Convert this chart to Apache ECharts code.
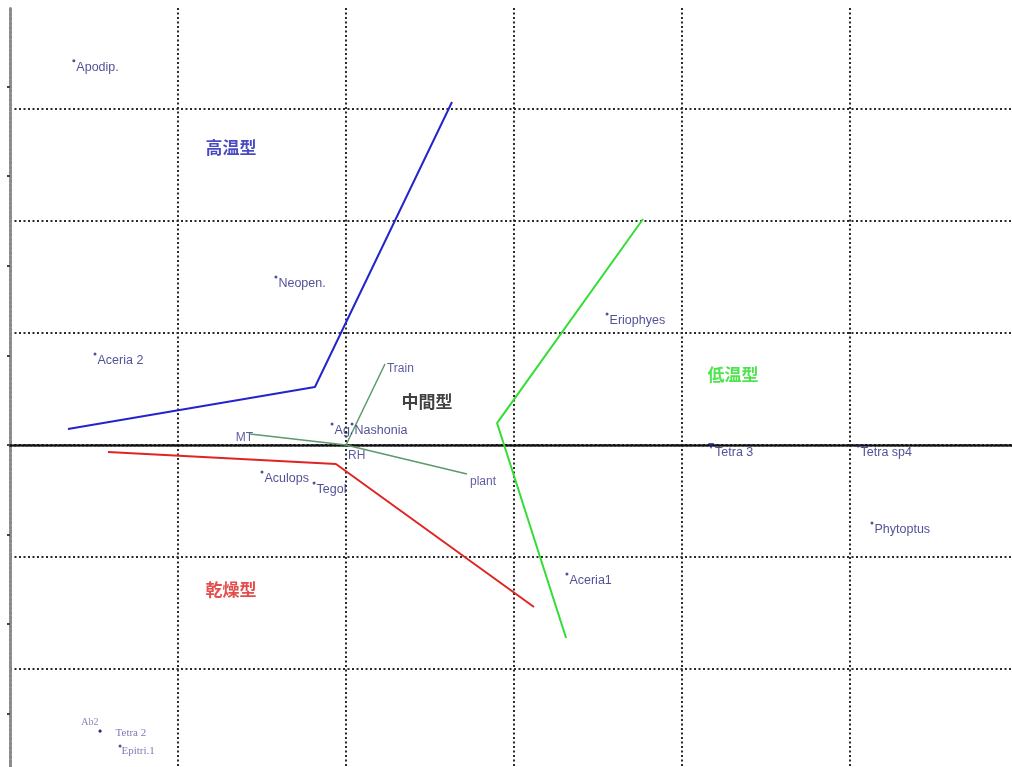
<!DOCTYPE html>
<html>
<head>
<meta charset="utf-8">
<title>CCA</title>
<script src="https://cdn.jsdelivr.net/npm/echarts@6.0.0/dist/echarts.min.js"></script>
<style>
    html, body { margin: 0; padding: 0; background: #fff; }
    #echart_main { width: 1012px; height: 767px; }
</style>
</head>
<body>
<div id="echart_main"></div>
<script>
// 种名与坐标（单位 = 一个网格）
var speciesNames = ['Apodip.', 'Neopen.', 'Aceria 2', 'Eriophyes', 'Tetra 3', 'Tetra sp4', 'Phytoptus',
    'Aceria1', 'Aculops', 'Tegol', 'Ag.', 'Nashonia', 'Ab2', 'Tetra 2', 'Epitri.1'];
var speciesX = [-1.62, -0.417, -1.494, 1.554, 2.173, 3.048, 3.131, 1.315, -0.5, -0.19, -0.083, 0.036, -1.464, -1.464, -1.345];
var speciesY = [3.43, 1.5, 0.813, 1.17, -0.009, -0.009, -0.696, -1.152, -0.241, -0.339, 0.188, 0.188, -2.554, -2.554, -2.688];

// 环境因子
var envNames = ['Train', 'MT', 'plant', 'RH'];
var envX = [0.232, -0.571, 0.72, 0.006];
var envY = [0.723, 0.098, -0.259, -0.009];

// 类型折线
var highTempX = [-1.655, -0.185, 0.631];
var highTempY = [0.143, 0.518, 3.063];
var dryX = [-1.417, -0.06, 1.119];
var dryY = [-0.0625, -0.17, -1.446];
var lowTempX = [1.768, 0.899, 1.31];
var lowTempY = [2.018, 0.196, -1.723];

var groupNames = ['高温型', '中間型', '低温型', '乾燥型'];
var groupX = [-0.685, 0.482, 2.304, -0.685];
var groupY = [2.652, 0.384, 0.625, -1.295];

function pairs(xs, ys) {
    var out = [];
    for (var i = 0; i < xs.length; i++) out.push([xs[i], ys[i]]);
    return out;
}

function draw() {
    var myChart = echarts.init(document.getElementById('echart_main'));
    var navy = '#25257e';
    var dotted = { color: '#2a2a2a', width: 2, type: [2, 2.5] };

    var speciesData = [];
    for (var i = 0; i < speciesNames.length; i++) {
        var item = { name: speciesNames[i], value: [speciesX[i], speciesY[i]] };
        var nm = speciesNames[i];
        if (nm == 'Ab2') {
            item.label = { position: 'left', offset: [1, -9], fontFamily: 'Liberation Serif', color: '#6a6aa8', fontSize: 10 };
        } else if (nm == 'Tetra 2') {
            item.label = { offset: [13, 2], fontFamily: 'Liberation Serif', color: '#5a5aa0', fontSize: 11 };
        } else if (nm == 'Epitri.1') {
            item.label = { offset: [-1, 5], fontFamily: 'Liberation Serif', color: '#5a5aa0', fontSize: 11 };
        } else if (nm == 'Tetra 3') {
            item.symbol = 'triangle';
            item.symbolRotate = 180;
            item.symbolSize = 6;
        }
        speciesData.push(item);
    }

    var envData = [];
    for (var j = 0; j < envNames.length; j++) {
        var e = { name: envNames[j], value: [envX[j], envY[j]] };
        if (envNames[j] == 'MT') e.label = { position: 'left', offset: [5, 4] };
        if (envNames[j] == 'plant') e.label = { offset: [1, 8] };
        if (envNames[j] == 'RH') e.label = { offset: [-1, 10] };
        envData.push(e);
    }

    var groupColors = ['#1c1cb4', '#111111', '#22dd22', '#dd2020'];
    var groupData = [];
    for (var k = 0; k < groupNames.length; k++) {
        groupData.push({
            name: groupNames[k],
            value: [groupX[k], groupY[k]],
            label: { color: groupColors[k] }
        });
    }

    var series = [];
    // 环境因子向量
    for (var m = 0; m < envNames.length; m++) {
        series.push({
            type: 'line',
            data: [[0, 0], [envX[m], envY[m]]],
            symbol: 'none',
            silent: true,
            lineStyle: { color: '#5b9a6b', width: 1.5 },
            z: 3
        });
    }
    series.push(
        {
            name: '高温型',
            type: 'line',
            data: pairs(highTempX, highTempY),
            symbol: 'none',
            lineStyle: { color: '#2424cc', width: 2 },
            z: 4
        },
        {
            name: '乾燥型',
            type: 'line',
            data: pairs(dryX, dryY),
            symbol: 'none',
            lineStyle: { color: '#e02424', width: 2 },
            z: 4
        },
        {
            name: '低温型',
            type: 'line',
            data: pairs(lowTempX, lowTempY),
            symbol: 'none',
            lineStyle: { color: '#33dd33', width: 2 },
            z: 4
        },
        {
            name: 'species',
            type: 'scatter',
            data: speciesData,
            symbolSize: 3,
            itemStyle: { color: navy },
            label: {
                show: true,
                position: 'right',
                distance: 1,
                offset: [0, 7],
                formatter: '{b}',
                color: navy,
                fontSize: 12.5,
                fontFamily: 'Liberation Sans'
            },
            z: 5
        },
        {
            name: 'envLabel',
            type: 'scatter',
            data: envData,
            symbolSize: 0,
            label: {
                show: true,
                position: 'right',
                distance: 2,
                offset: [0, 5],
                formatter: '{b}',
                color: '#33338a',
                fontSize: 12,
                fontFamily: 'Liberation Sans'
            },
            z: 5
        },
        {
            name: 'group',
            type: 'scatter',
            data: groupData,
            symbolSize: 0,
            label: {
                show: true,
                position: 'inside',
                formatter: '{b}',
                fontSize: 17,
                fontWeight: 'bold',
                fontFamily: 'Noto Sans CJK JP'
            },
            z: 5
        }
    );

    option = {
        animation: false,
        grid: [
            { left: 10, right: 0, top: 8, height: 773, outerBoundsMode: 'none' },
            // 左侧刻度
            { left: 10, right: 0, top: -3, height: 806.4, outerBoundsMode: 'none' }
        ],
        xAxis: [
            {
                type: 'value',
                min: -2,
                max: 3.9643,
                interval: 1,
                axisLine: { onZero: true, lineStyle: { color: '#111', width: 2.5, type: [2, 2] } },
                axisTick: { show: false },
                axisLabel: { show: false },
                splitLine: { show: true, showMinLine: false, showMaxLine: false, lineStyle: dotted }
            },
            {
                type: 'value',
                gridIndex: 1,
                min: -2,
                max: 3.9643,
                show: false
            }
        ],
        yAxis: [
            {
                type: 'value',
                min: -3,
                max: 3.9018,
                interval: 1,
                axisLine: { show: true, onZero: false, lineStyle: { color: '#8a8a8a', width: 3, type: [3, 1.5] } },
                axisTick: { show: false },
                axisLabel: { show: false },
                splitLine: { show: true, showMinLine: false, showMaxLine: false, lineStyle: dotted }
            },
            {
                type: 'value',
                gridIndex: 1,
                min: -3.2,
                max: 4,
                interval: 0.8,
                axisLine: { show: false, onZero: false },
                axisTick: { show: true, length: 3, lineStyle: { color: '#444', width: 2 } },
                axisLabel: { show: false },
                splitLine: { show: false }
            }
        ],
        series: series
    };
    myChart.setOption(option);
    window.onresize = function () {
        myChart.resize();
    }
}

draw();
</script>
</body>
</html>
